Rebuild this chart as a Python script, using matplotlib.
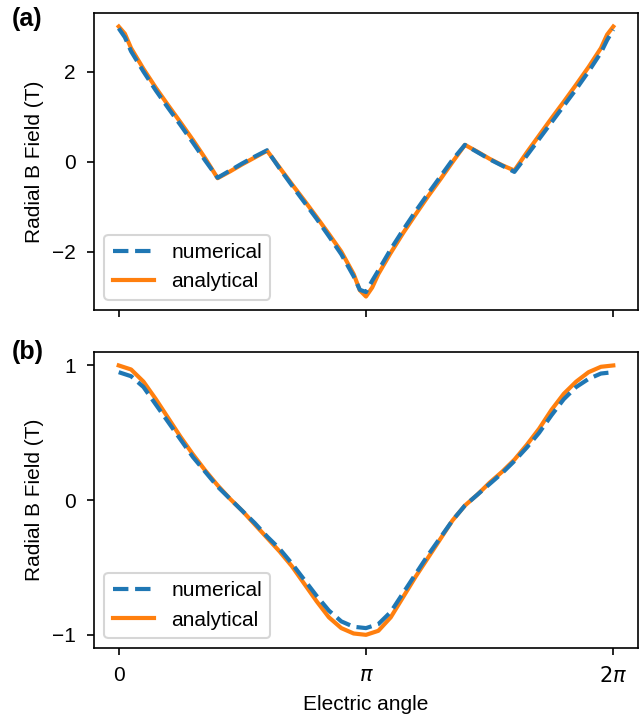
import numpy as np
import matplotlib
matplotlib.use("Agg")
from matplotlib import pyplot as plt

plt.rcParams["font.family"] = ["Liberation Sans", "DejaVu Sans"]
plt.rcParams["font.size"] = 10
plt.rcParams["xtick.major.pad"] = 5.2
plt.rcParams["ytick.major.pad"] = 5.2

# electric angle in units of pi
top_angle = [0.0, 0.025, 0.05, 0.1, 0.15, 0.2, 0.25, 0.3, 0.35, 0.4, 0.45, 0.5, 0.55, 0.6,
             0.65, 0.7, 0.75, 0.8, 0.85, 0.9, 0.95, 0.975, 1.0, 1.025, 1.05, 1.1, 1.15, 1.2,
             1.25, 1.3, 1.35, 1.4, 1.45, 1.5, 1.55, 1.6, 1.65, 1.7, 1.75, 1.8, 1.85, 1.9,
             1.95, 1.975, 2.0]

top_numerical = [2.96, 2.76, 2.45, 2.00, 1.58, 1.19, 0.81, 0.42, 0.02, -0.36, -0.20, -0.04,
                 0.11, 0.25, -0.15, -0.53, -0.90, -1.27, -1.66, -2.06, -2.55, -2.85, -2.90,
                 -2.65, -2.42, -1.95, -1.52, -1.11, -0.72, -0.34, 0.04, 0.37, 0.21, 0.05,
                 -0.09, -0.23, 0.13, 0.50, 0.87, 1.24, 1.61, 2.00, 2.42, 2.70, 2.93]

top_analytical = [3.00, 2.84, 2.52, 2.06, 1.64, 1.25, 0.87, 0.48, 0.07, -0.37, -0.22, -0.06,
                  0.09, 0.24, -0.13, -0.50, -0.86, -1.23, -1.61, -2.00, -2.50, -2.86, -3.00,
                  -2.80, -2.50, -2.03, -1.59, -1.18, -0.78, -0.40, -0.01, 0.37, 0.22, 0.06,
                  -0.08, -0.20, 0.20, 0.58, 0.96, 1.33, 1.71, 2.10, 2.52, 2.82, 3.00]

bottom_angle = [0.0, 0.05, 0.1, 0.15, 0.2, 0.25, 0.3, 0.35, 0.4, 0.45, 0.5, 0.55, 0.6, 0.65,
                0.7, 0.75, 0.8, 0.85, 0.9, 0.95, 1.0, 1.05, 1.1, 1.15, 1.2, 1.25, 1.3, 1.35,
                1.4, 1.45, 1.5, 1.55, 1.6, 1.65, 1.7, 1.75, 1.8, 1.85, 1.9, 1.95, 2.0]

bottom_numerical = [0.95, 0.92, 0.84, 0.71, 0.58, 0.45, 0.32, 0.21, 0.10, 0.01, -0.08, -0.17,
                    -0.27, -0.36, -0.47, -0.59, -0.71, -0.82, -0.90, -0.94, -0.95, -0.92,
                    -0.83, -0.69, -0.55, -0.41, -0.28, -0.15, -0.04, 0.04, 0.12, 0.20, 0.29,
                    0.39, 0.50, 0.63, 0.75, 0.84, 0.90, 0.94, 0.95]

bottom_analytical = [1.00, 0.97, 0.88, 0.75, 0.61, 0.47, 0.34, 0.22, 0.11, 0.01, -0.08, -0.18,
                     -0.28, -0.38, -0.49, -0.62, -0.75, -0.87, -0.95, -0.99, -1.00, -0.97,
                     -0.87, -0.72, -0.57, -0.43, -0.29, -0.15, -0.04, 0.04, 0.13, 0.21, 0.30,
                     0.41, 0.53, 0.67, 0.79, 0.88, 0.95, 0.99, 1.00]

x_ticks = [0, np.pi, 2 * np.pi]
x_ticklabels = ["0", r"$\pi$", r"$2\pi$"]

fig = plt.figure(figsize=(4.28, 4.78), dpi=150)
ax_a = fig.add_axes([0.1464, 0.5676, 0.8474, 0.4142])
ax_b = fig.add_axes([0.1464, 0.0958, 0.8474, 0.4133], sharex=ax_a)


def draw_panel(ax, angle, numerical, analytical):
    theta = np.array(angle) * np.pi
    ax.plot(theta, numerical, "--", color="C0", lw=2, label="numerical", zorder=3)
    ax.plot(theta, analytical, "-", color="C1", lw=2, label="analytical", zorder=2)
    ax.set_ylabel("Radial B Field (T)")
    ax.legend(loc="lower left")


draw_panel(ax_a, top_angle, top_numerical, top_analytical)
draw_panel(ax_b, bottom_angle, bottom_numerical, bottom_analytical)

ax_a.set_yticks([-2, 0, 2])
ax_b.set_yticks([-1, 0, 1])
ax_b.set_xticks(x_ticks)
ax_b.set_xticklabels(x_ticklabels)
ax_a.tick_params(labelbottom=False)
ax_b.set_xlabel("Electric angle")

fig.text(12 / 642, 1 - 7 / 717, "(a)", fontsize=12, fontweight="bold", ha="left", va="top")
fig.text(12 / 642, 1 - 340 / 717, "(b)", fontsize=12, fontweight="bold", ha="left", va="top")

fig.savefig("out.png", dpi=150)
